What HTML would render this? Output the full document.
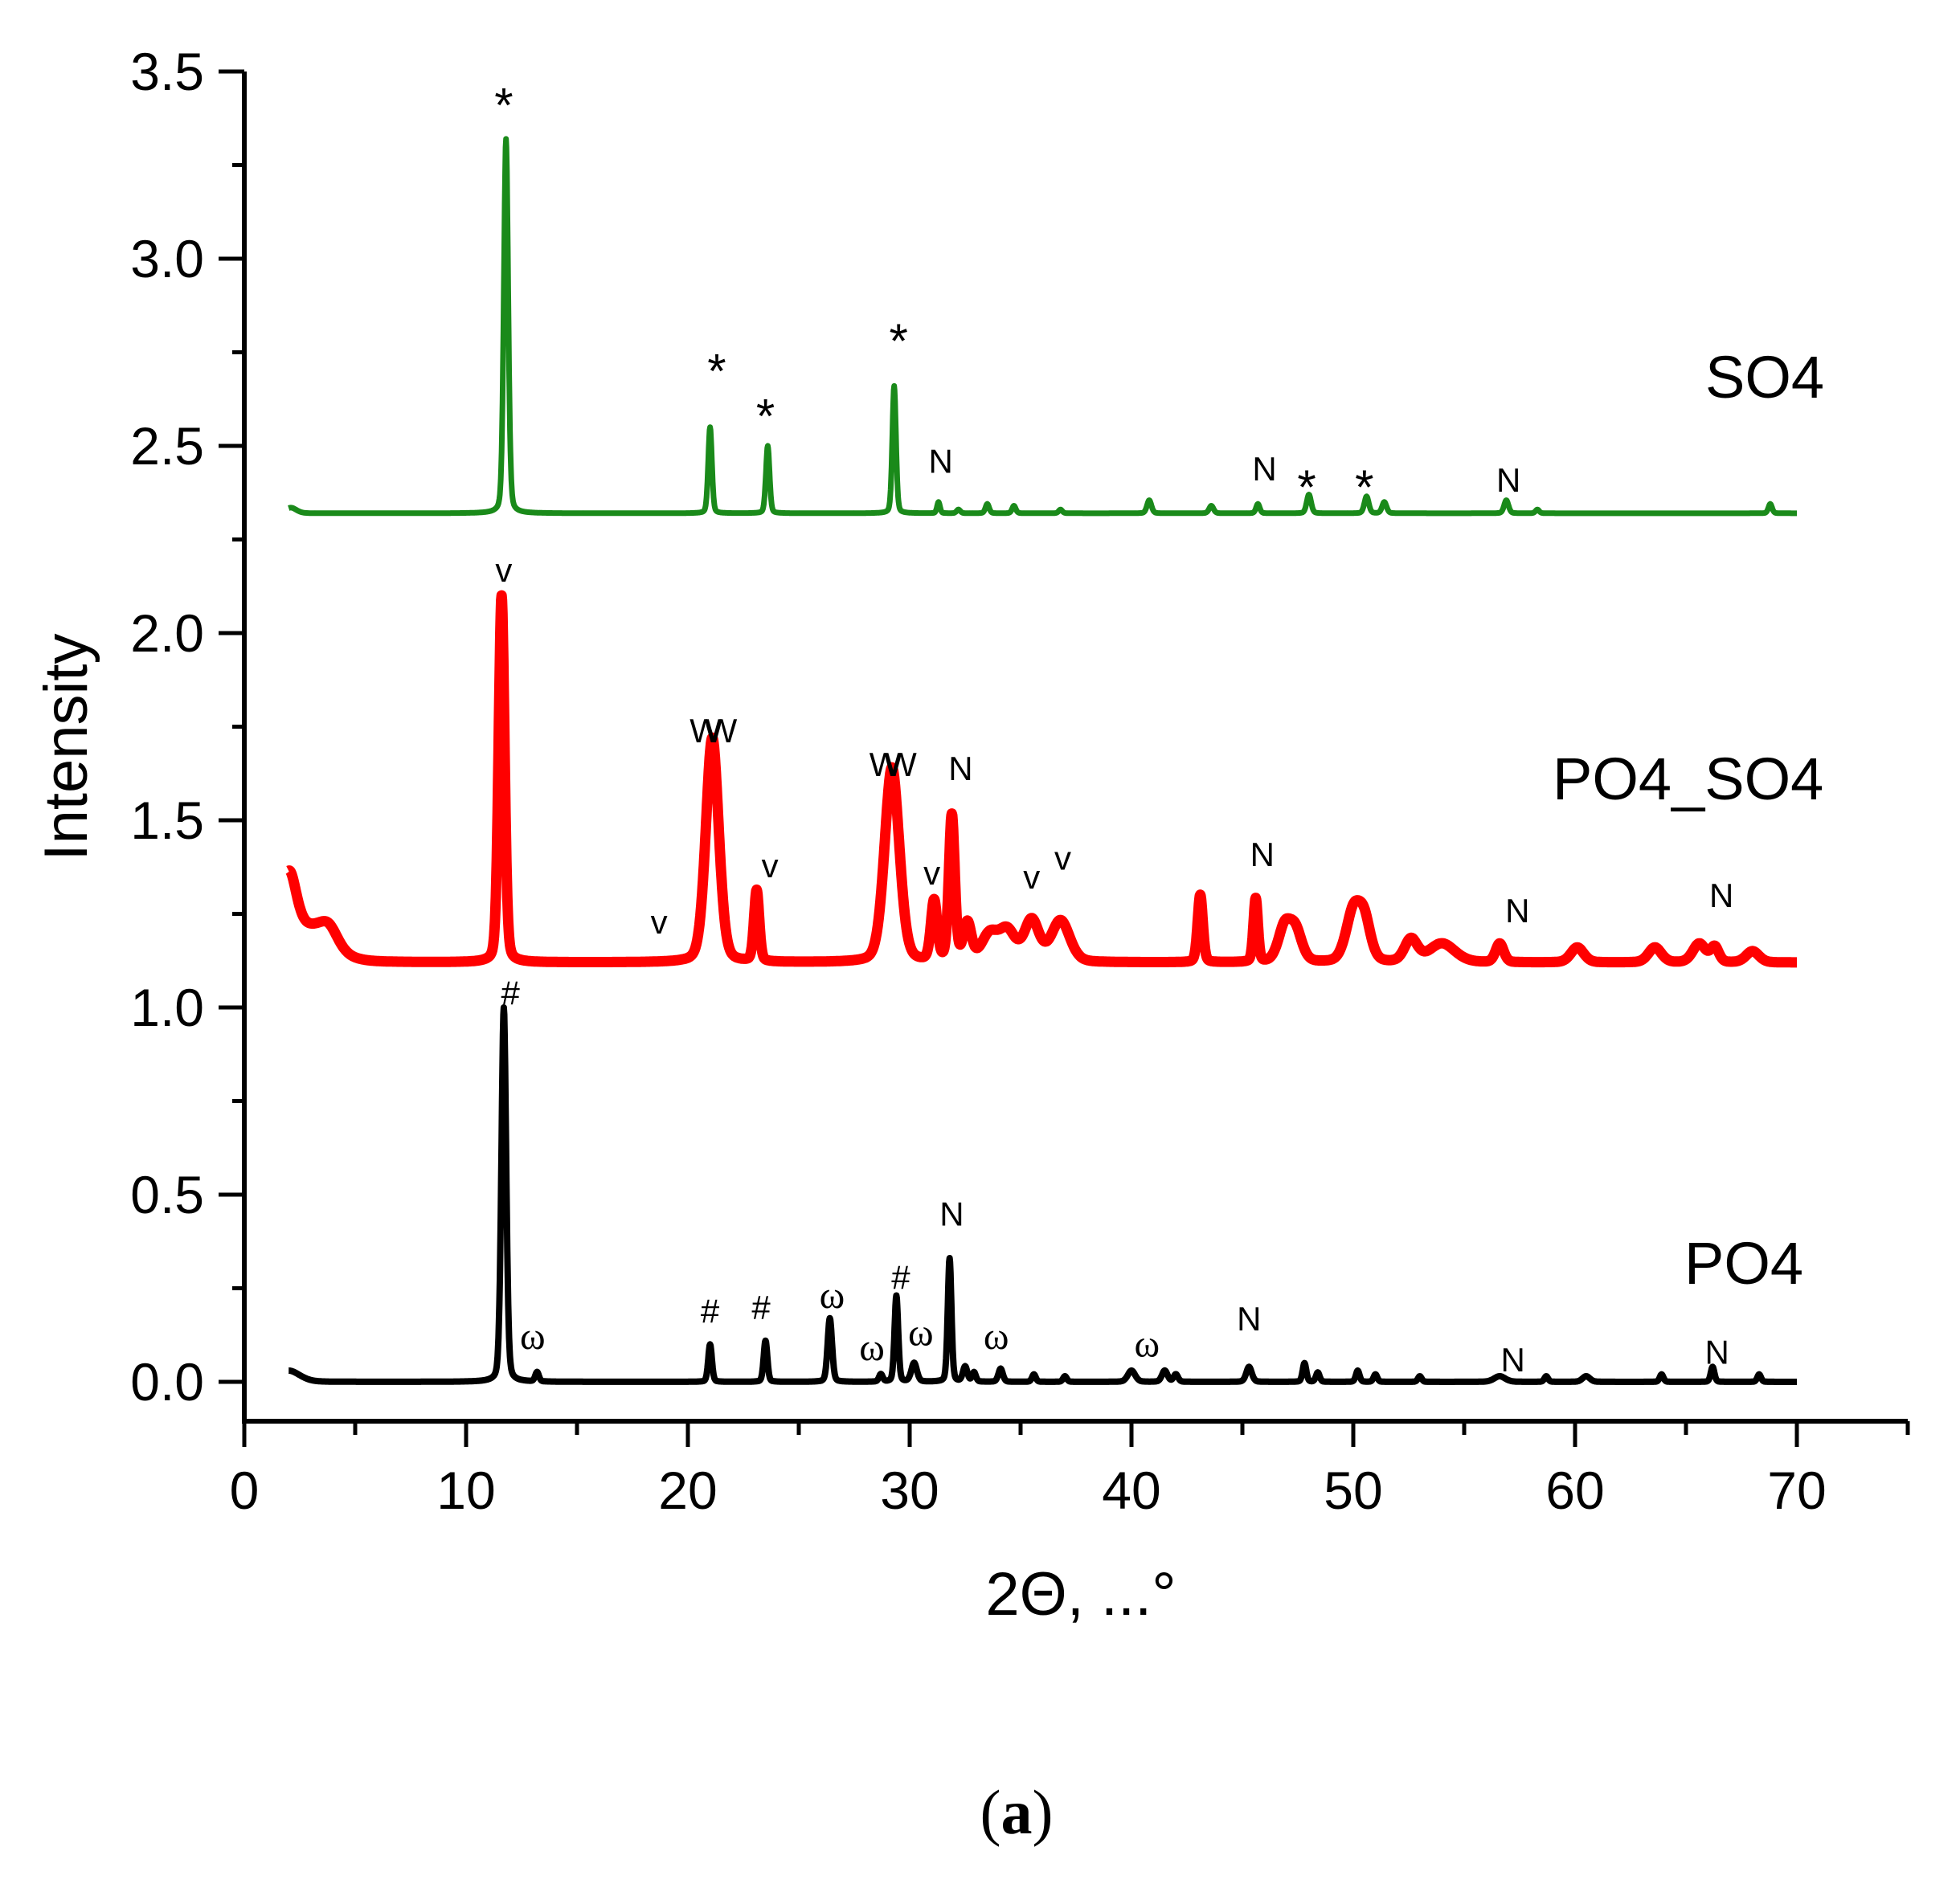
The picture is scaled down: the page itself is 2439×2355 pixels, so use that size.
<!DOCTYPE html>
<html><head><meta charset="utf-8"><style>
html,body{margin:0;padding:0;background:#fff;}
svg{display:block;font-family:"Liberation Sans",Arial,sans-serif;}
</style></head><body>
<svg id="chart" width="2439" height="2355" viewBox="0 0 2439 2355" xmlns="http://www.w3.org/2000/svg">
<g id="axes"></g>
<g id="series"></g>
<g id="annots"></g>
<text x="0" y="0" transform="translate(108,930) rotate(-90)" text-anchor="middle" font-size="76">Intensity</text>
<text x="1345" y="2010" text-anchor="middle" font-size="76">2Θ, ...°</text>
<text x="1265" y="2282" text-anchor="middle" font-size="78" font-family="Liberation Serif,serif">(<tspan font-weight="bold">a</tspan>)</text>
<text x="2122" y="495" font-size="74">SO4</text>
<text x="1932" y="995" font-size="74">PO4_SO4</text>
<text x="2096" y="1598" font-size="74">PO4</text>
</svg>
<script>
const xTicks=[0,10,20,30,40,50,60,70];
const yTicks=[0.0,0.5,1.0,1.5,2.0,2.5,3.0,3.5];
// SO4 (green)
const so4Base=2.32;
const so4Pos=[2.1,11.8,21.0,23.6,29.3,31.3,32.2,33.5,34.7,36.8,40.8,43.6,45.7,48.0,50.6,51.4,56.9,58.3,68.8];
const so4Amp=[0.015,1.0,0.23,0.18,0.34,0.03,0.01,0.025,0.02,0.01,0.035,0.02,0.025,0.05,0.045,0.03,0.035,0.01,0.025];
const so4Wid=[0.3,0.12,0.1,0.1,0.1,0.08,0.1,0.1,0.1,0.1,0.12,0.12,0.1,0.12,0.12,0.12,0.12,0.1,0.1];
// PO4_SO4 (red)
const redBase=1.12;
const redPos=[2.0,2.8,3.8,11.6,21.1,23.1,29.2,31.1,31.9,32.6,33.6,34.4,35.5,36.8,43.1,45.6,46.9,47.4,50.0,50.5,52.6,54,56.6,60.1,63.6,65.6,66.3,68];
const redAmp=[0.18,0.09,0.05,0.98,0.6,0.19,0.52,0.16,0.39,0.1,0.07,0.08,0.11,0.11,0.18,0.17,0.09,0.08,0.13,0.1,0.06,0.05,0.05,0.04,0.04,0.05,0.04,0.03];
const redWid=[0.4,1.2,0.5,0.16,0.35,0.14,0.4,0.17,0.16,0.22,0.45,0.45,0.4,0.5,0.14,0.12,0.35,0.35,0.4,0.35,0.35,0.7,0.22,0.35,0.35,0.35,0.22,0.35];
// PO4 (black)
const blkBase=0.0;
const blkPos=[2.0,11.7,13.2,21.0,23.5,26.4,28.7,29.4,30.2,31.8,32.5,32.9,34.1,35.6,37.0,40.0,41.5,42.0,45.3,47.8,48.4,50.2,51.0,53,56.6,58.7,60.5,63.9,66.2,68.3];
const blkAmp=[0.03,1.0,0.025,0.1,0.11,0.17,0.02,0.23,0.05,0.33,0.04,0.025,0.035,0.02,0.015,0.03,0.03,0.02,0.04,0.05,0.025,0.03,0.02,0.015,0.015,0.015,0.015,0.02,0.04,0.02];
const blkWid=[0.6,0.13,0.1,0.1,0.1,0.12,0.1,0.1,0.15,0.1,0.12,0.1,0.12,0.1,0.1,0.2,0.15,0.12,0.15,0.1,0.1,0.1,0.1,0.1,0.3,0.1,0.2,0.1,0.1,0.1];

const annText=["*","*","*","*","N","N","*","*","N",
 "v","W","W","v","v","W","W","N","v","v","v","N","N","N",
 "#","ω","#","#","ω","ω","#","ω","N","ω","ω","N","N","N"];
const annX=[11.7,21.3,23.5,29.5,31.4,46.0,47.9,50.5,57.0,
 11.7,20.8,21.5,18.7,23.7,28.9,29.6,32.3,31.0,35.5,36.9,45.9,57.4,66.6,
 12.0,13.0,21.0,23.3,26.5,28.3,29.6,30.5,31.9,33.9,40.7,45.3,57.2,66.4];
const annY=[3.43,2.72,2.6,2.8,2.46,2.44,2.41,2.41,2.41,
 2.17,1.74,1.74,1.23,1.38,1.65,1.65,1.64,1.36,1.35,1.40,1.41,1.26,1.30,
 1.04,0.12,0.19,0.2,0.23,0.09,0.28,0.13,0.45,0.12,0.10,0.17,0.06,0.08];

const X=v=>304+27.6*v;
const Y=v=>1720-466*v;
const NS="http://www.w3.org/2000/svg";
function mk(parent,tag,attrs){const e=document.createElementNS(NS,tag);for(const k in attrs)e.setAttribute(k,attrs[k]);parent.appendChild(e);return e;}
const ax=document.getElementById('axes');
let a=mk(ax,'path',{d:`M${X(0)} ${Y(3.5)} V1769 H${X(75)}`,fill:'none',stroke:'#000','stroke-width':6});


for(let i=0;i<=15;i++){const v=i*5,maj=i%2==0;
 const t=mk(ax,'line',{x1:X(v),x2:X(v),y1:1769,y2:maj?1801:1786,stroke:'#000','stroke-width':5});
 
 }
xTicks.forEach(v=>{const t=mk(ax,'text',{x:X(v),y:1878,'text-anchor':'middle','font-size':66});t.textContent=v;
 
 });
for(let i=0;i<=14;i++){const v=i*0.25,maj=i%2==0;
 const t=mk(ax,'line',{x1:maj?272:289,x2:X(0),y1:Y(v),y2:Y(v),stroke:'#000','stroke-width':5});
 
 }
yTicks.forEach(v=>{const t=mk(ax,'text',{x:254,y:Y(v)+23,'text-anchor':'end','font-size':66});t.textContent=v.toFixed(1);
 
 });

function curve(base,pos,amp,wid){let d='';
 for(let x=2;x<=70.001;x+=0.02){let y=base;
  for(let i=0;i<pos.length;i++){const u=(x-pos[i])/wid[i];
   y+=amp[i]*(0.75*Math.exp(-u*u*0.7)+0.25/(1+u*u*1.2));}
  d+=(d?'L':'M')+X(x).toFixed(1)+' '+Y(y).toFixed(1);}
 return d;}
const sg=document.getElementById('series');
let s=mk(sg,'path',{d:curve(so4Base,so4Pos,so4Amp,so4Wid),fill:'none',stroke:'#1a8a1a','stroke-width':7,'stroke-linejoin':'round'});


s=mk(sg,'path',{d:curve(redBase,redPos,redAmp,redWid),fill:'none',stroke:'#ff0000','stroke-width':13,'stroke-linejoin':'round'});


s=mk(sg,'path',{d:curve(blkBase,blkPos,blkAmp,blkWid),fill:'none',stroke:'#000','stroke-width':8,'stroke-linejoin':'round'});



const ag=document.getElementById('annots');
annText.forEach((t,i)=>{const big=t=='*';const om=t=='ω';
 const e=mk(ag,'text',{x:X(annX[i]),y:Y(annY[i])+(big?30:15),'text-anchor':'middle','font-size':big?60:(om?48:42),'font-family':om?'Liberation Serif,serif':'Liberation Sans,sans-serif'});
 e.textContent=t;
 
 });
</script>
</body></html>
